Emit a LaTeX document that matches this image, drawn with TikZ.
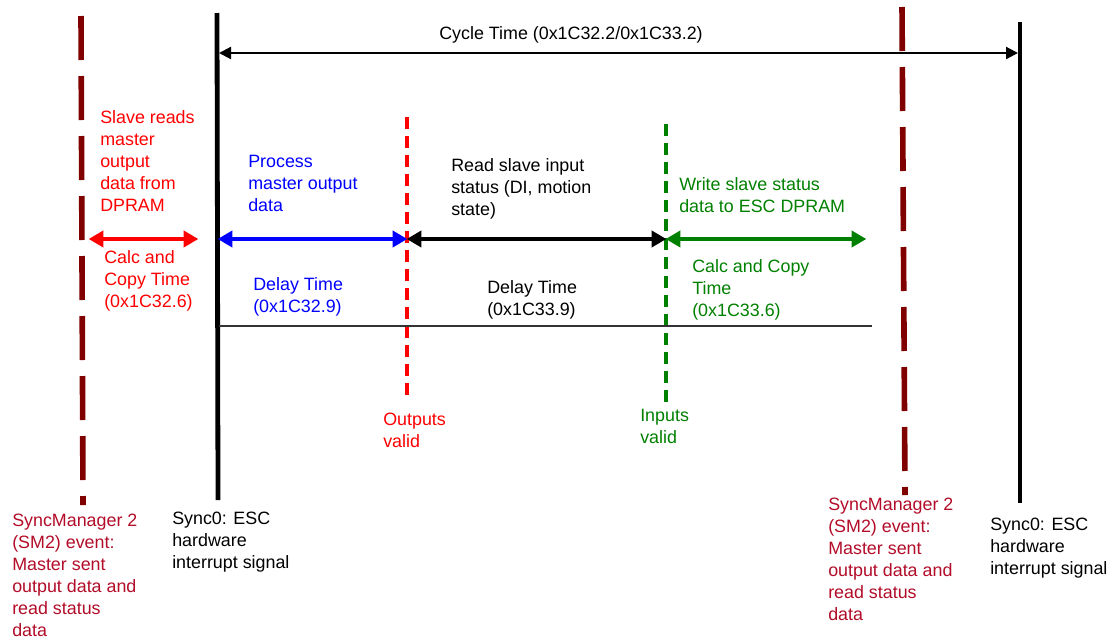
\documentclass[tikz,border=0pt]{standalone}
\usepackage{fontspec}
\setmainfont{Liberation Sans}
\usetikzlibrary{arrows.meta}
\definecolor{smline}{RGB}{128,0,0}
\definecolor{smtext}{RGB}{178,12,40}
\definecolor{rred}{RGB}{255,0,0}
\definecolor{bblue}{RGB}{0,0,255}
\definecolor{ggreen}{RGB}{0,128,0}
\newcommand\lines[1]{\vtop{\halign{##\hfil\cr#1\crcr}}}
\tikzset{
  lbl/.style={anchor=base west, inner sep=0pt, font=\fontsize{13.4}{16.5}\selectfont},
  smdash/.style={draw=smline, line width=4.2pt, dash pattern=on 33pt off 12pt},
  syncline/.style={draw=black, line width=3.6pt},
  validdash/.style={line width=2.3pt, dash pattern=on 9pt off 5.25pt},
  span/.style={line width=3.6pt, {Triangle[length=11pt,width=12pt]}-{Triangle[length=11pt,width=12pt]}, shorten <=-1pt, shorten >=-1pt},
  cycle/.style={line width=1.6pt, {Triangle[length=9pt,width=9pt]}-{Triangle[length=9pt,width=9pt]}},
}
\begin{document}
\begin{tikzpicture}[x=0.75pt,y=-0.75pt]
\useasboundingbox (0,0) rectangle (1116,636);
% vertical lines
\coordinate (smLt) at (81,16);  \coordinate (smLb) at (83,505);
\coordinate (smRt) at (902,7);  \coordinate (smRb) at (905,495);
\coordinate (s0Lt) at (217,13); \coordinate (s0Lb) at (218,500);
\coordinate (s0Rt) at (1020,22); \coordinate (s0Rb) at (1020,503);
\coordinate (ovt) at (407,117); \coordinate (ovb) at (407,400);
\coordinate (ivt) at (666,124); \coordinate (ivb) at (666,402);
\draw[smdash] (smLt) -- (smLb);
\draw[smdash] (smRt) -- (smRb);
\draw[syncline] (s0Lt) -- (s0Lb);
\draw[syncline] (s0Rt) -- (s0Rb);
\draw[validdash, draw=rred] (ovt) -- (ovb);
\draw[validdash, draw=ggreen] (ivt) -- (ivb);
% cycle time
\coordinate (ctL) at (219,53); \coordinate (ctR) at (1018,53);
\draw[cycle] (ctL) -- (ctR);
\node[lbl, anchor=base] (ct) at (571,39) {Cycle Time (0x1C32.2/0x1C33.2)};
% spans
\coordinate (a0) at (90,239); \coordinate (a1) at (197,239);
\coordinate (b0) at (219,239); \coordinate (b1) at (406,239);
\coordinate (c0) at (408,239); \coordinate (c1) at (665,239);
\coordinate (d0) at (667,239); \coordinate (d1) at (865,239);
\draw[span, draw=rred, fill=rred] (a0) -- (a1);
\draw[span, draw=bblue, fill=bblue] (b0) -- (b1);
\draw[span, draw=black, fill=black] (c0) -- (c1);
\draw[span, draw=ggreen, fill=ggreen] (d0) -- (d1);
% thin line
\coordinate (hl0) at (219,326); \coordinate (hl1) at (872,326);
\draw[line width=0.8pt, black!80] (hl0) -- (hl1);
% labels
\node[lbl, text=rred] (t1) at (100,123) {\lines{Slave reads\cr master\cr output\cr data from\cr DPRAM}};
\node[lbl, text=rred] (t2) at (104,263) {\lines{Calc and\cr Copy Time\cr (0x1C32.6)}};
\node[lbl, text=bblue] (t3) at (248,167) {\lines{Process\cr master output\cr data}};
\node[lbl, text=bblue] (t4) at (253,290) {\lines{Delay Time\cr (0x1C32.9)}};
\node[lbl] (t5) at (451,171) {\lines{Read slave input\cr status (DI, motion\cr state)}};
\node[lbl] (t6) at (487,293) {\lines{Delay Time\cr (0x1C33.9)}};
\node[lbl, text=ggreen] (t7) at (679,190) {\lines{Write slave status\cr data to ESC DPRAM}};
\node[lbl, text=ggreen] (t8) at (692,272) {\lines{Calc and Copy\cr Time\cr (0x1C33.6)}};
\node[lbl, text=rred] (t9) at (383,425) {\lines{Outputs\cr valid}};
\node[lbl, text=ggreen] (t10) at (640,421) {\lines{Inputs\cr valid}};
\node[lbl, text=smtext] (t11) at (12,526) {\lines{SyncManager 2\cr (SM2) event:\cr Master sent\cr output data and\cr read status\cr data}};
\node[lbl] (t12) at (172,524) {\lines{Sync0: ESC\cr hardware\cr interrupt signal}};
\node[lbl, text=smtext] (t13) at (828,510) {\lines{SyncManager 2\cr (SM2) event:\cr Master sent\cr output data and\cr read status\cr data}};
\node[lbl] (t14) at (990,530) {\lines{Sync0: ESC\cr hardware\cr interrupt signal}};
\end{tikzpicture}
\end{document}
